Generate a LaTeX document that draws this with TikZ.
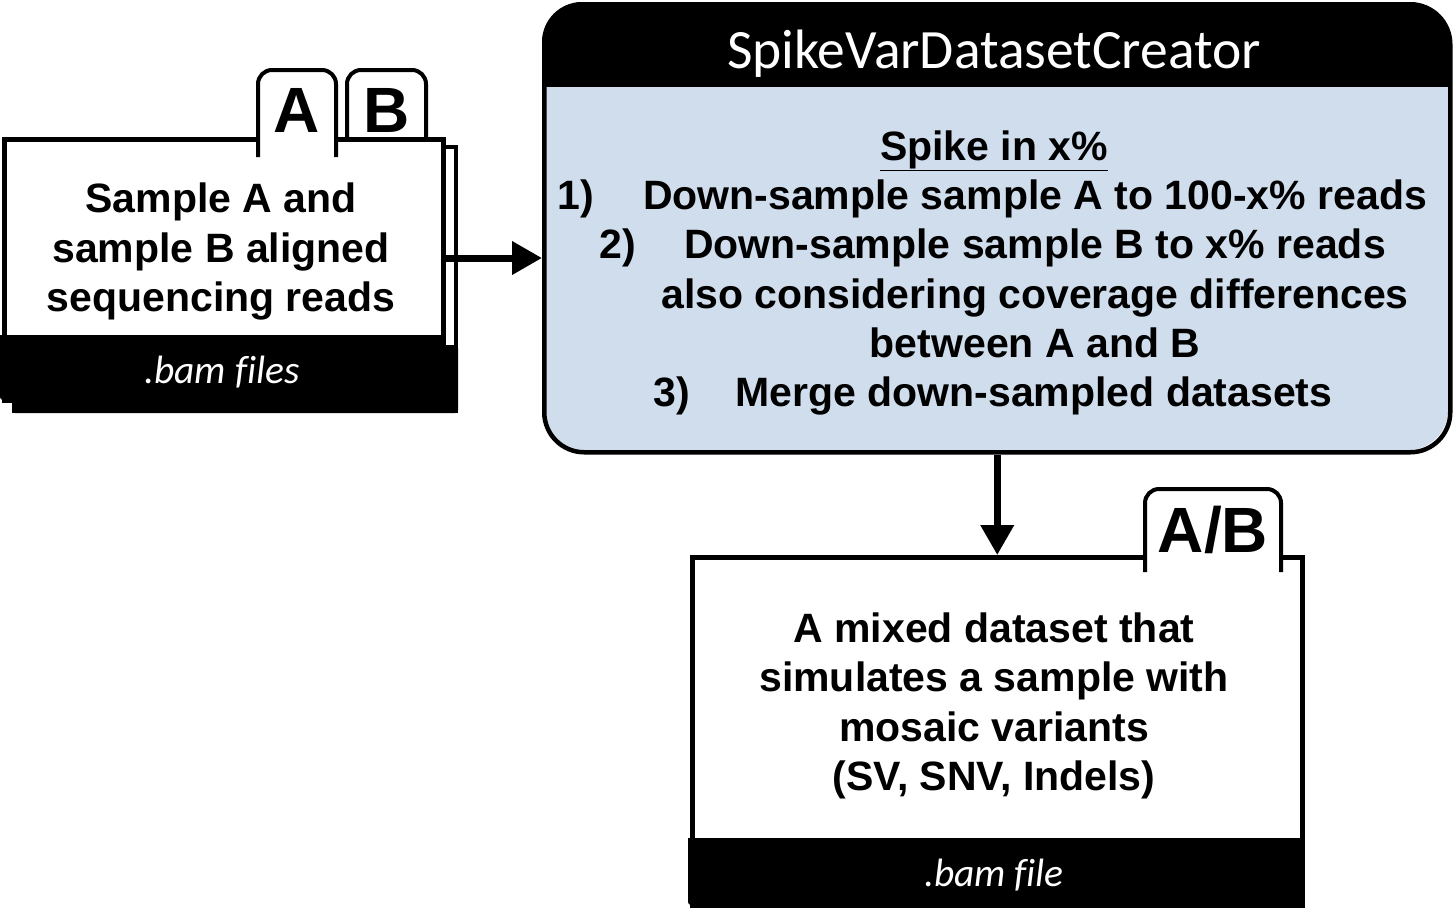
\documentclass[tikz,border=0pt]{standalone}
\usepackage{fontspec}
\setmainfont{Liberation Sans}
\newfontfamily\calfont[Ligatures=NoCommon]{Carlito}
\usetikzlibrary{arrows.meta}
\definecolor{toolblue}{RGB}{207,221,236}
\tikzset{
  boxline/.style={draw=black,line width=4.5pt,fill=white},
  band/.style={fill=black},
  tabline/.style={draw=black,line width=4pt,fill=white,rounded corners=14pt},
  bodytext/.style={font=\fontsize{41}{49}\selectfont\bfseries,anchor=base,inner sep=0pt},
  tabtext/.style={font=\fontsize{64}{70}\selectfont\bfseries,anchor=base,inner sep=0pt},
  caltext/.style={font=\fontsize{39.5}{44}\selectfont\calfont\itshape,text=white,anchor=base,inner sep=0pt},
  flow/.style={line width=7pt,-{Triangle[length=30pt,width=32pt]}}
}
\begin{document}
\begin{tikzpicture}[x=1pt,y=-1pt]
\useasboundingbox (0,0) rectangle (1455,922);
% ---- back box (sample B) ----
\draw[boxline] (14,147) rectangle (456,411);
\fill[band,rounded corners=3pt] (12,345) rectangle (458,413);
\fill[band] (12,345) rectangle (458,380);
% tab B
\path[tabline] (347,137) -- (347,70) -- (426,70) -- (426,137);
\node[tabtext] (tabB) at (386.5,132) {B};
% ---- front box (sample A) ----
\node[boxline,minimum width=439pt,minimum height=261pt,inner sep=0pt,anchor=north west] (src) at (2,137) {};
\fill[band,rounded corners=3pt] (0,335) rectangle (443,400);
\fill[band] (0,335) rectangle (443,370);
% tab A
\path[tabline] (258,157) -- (258,70) -- (336,70) -- (336,157);
\node[tabtext] (tabA) at (297,132) {A};
\node[bodytext] (srcl1) at (221,212) {Sample A and};
\node[bodytext] (srcl2) at (221,262) {sample B aligned};
\node[bodytext] (srcl3) at (221,311) {sequencing reads};
\node[caltext] (srcbam) at (222,383) {.bam files};
% ---- tool box ----
\begin{scope}
  \clip[rounded corners=40pt] (542,2) rectangle (1448,450);
  \fill[toolblue] (542,2) rectangle (1448,450);
  \fill[black] (542,2) rectangle (1448,87);
\end{scope}
\node[draw=black,line width=4.5pt,rounded corners=40pt,minimum width=906pt,minimum height=448pt,inner sep=0pt,anchor=north west] (tool) at (542,2) {};
\node[font=\fontsize{55.5}{60}\selectfont\calfont,text=white,anchor=base,inner sep=0pt] (title) at (994,68) {SpikeVarDatasetCreator};
\node[bodytext] (spike) at (994,160) {\underline{Spike in x\%}};
\node[bodytext] (n1) at (576,209) {1)};
\node[bodytext] (s1) at (1035,209) {Down-sample sample A to 100-x\% reads};
\node[bodytext] (n2) at (618,258) {2)};
\node[bodytext] (s2) at (1035,258) {Down-sample sample B to x\% reads};
\node[bodytext] (s2b) at (1035,308) {also considering coverage differences};
\node[bodytext] (s2c) at (1035,357) {between A and B};
\node[bodytext] (n3) at (672,406) {3)};
\node[bodytext] (s3) at (1034,406) {Merge down-sampled datasets};
% ---- output box ----
\node[boxline,minimum width=610pt,minimum height=348pt,inner sep=0pt,anchor=north west] (out) at (690,555) {};
\fill[band,rounded corners=3pt] (688,838) rectangle (1302,905);
\fill[band] (688,838) rectangle (1302,870);
\path[tabline] (1145,572) -- (1145,489) -- (1281,489) -- (1281,572);
\node[tabtext] (tabAB) at (1213,552) {A/B};
\node[bodytext] (outl1) at (994,642) {A mixed dataset that};
\node[bodytext] (outl2) at (994,691) {simulates a sample with};
\node[bodytext] (outl3) at (994,741) {mosaic variants};
\node[bodytext] (outl4) at (994,790) {(SV, SNV, Indels)};
\node[caltext] (outbam) at (994,886) {.bam file};
% ---- connectors ----
\coordinate (ay) at (0,258);
\draw[flow] (src.east |- ay) -- (tool.west |- ay);
\draw[flow] (tool.south) -- (out.north);
\end{tikzpicture}
\end{document}
